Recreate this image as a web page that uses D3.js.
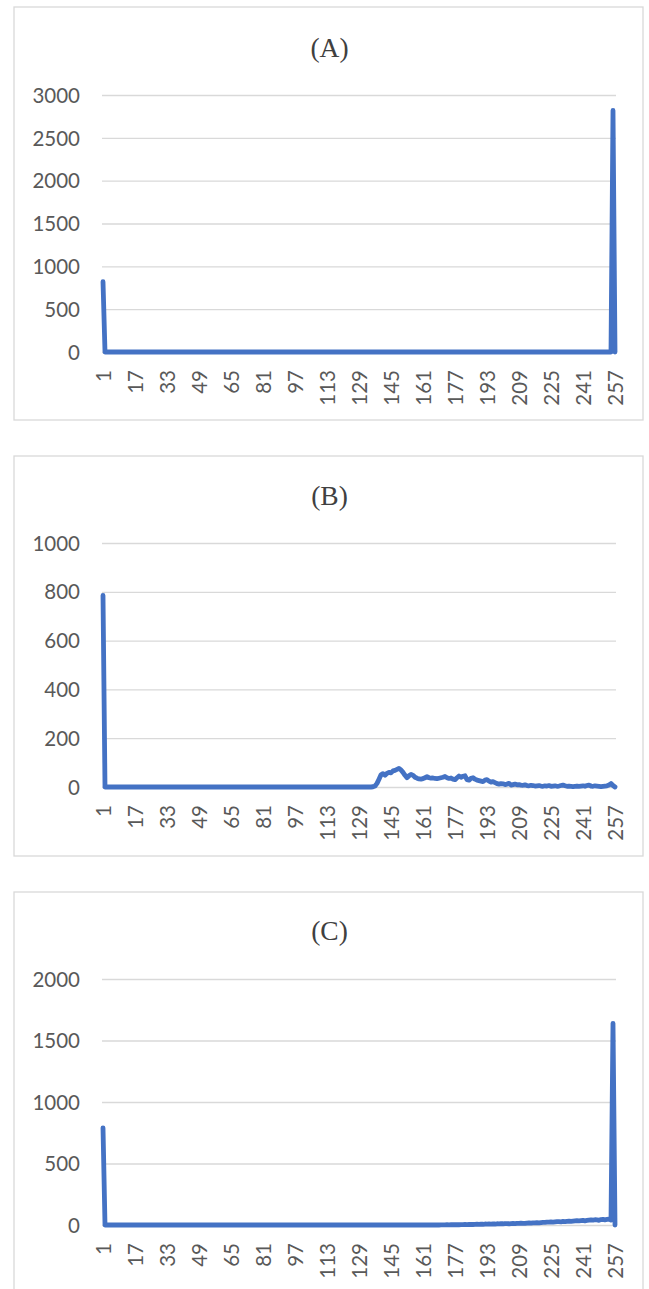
<!DOCTYPE html>
<html>
<head>
<meta charset="utf-8">
<script src="https://cdn.jsdelivr.net/npm/d3@7"></script>
<style>
  html, body { margin: 0; padding: 0; background: #ffffff; }
  svg { display: block; }
  .tick text { font-family: Lato, "Open Sans", sans-serif; font-size: 20.5px; fill: #595959; }
  .title { font-family: "Liberation Serif", "Times New Roman", serif; font-size: 27.5px; fill: #404040; }
</style>
</head>
<body>
<svg id="chart" width="649" height="1289"></svg>
<script>
// Histogram bins (1..257) for three images, one line series per panel
const categories = d3.range(1, 258);
const xTickLabels = [1, 17, 33, 49, 65, 81, 97, 113, 129, 145, 161, 177, 193, 209, 225, 241, 257];

const seriesA = [
  820,0,0,0,0,0,0,0,0,0,0,0,0,0,0,0,
  0,0,0,0,0,0,0,0,0,0,0,0,0,0,0,0,
  0,0,0,0,0,0,0,0,0,0,0,0,0,0,0,0,
  0,0,0,0,0,0,0,0,0,0,0,0,0,0,0,0,
  0,0,0,0,0,0,0,0,0,0,0,0,0,0,0,0,
  0,0,0,0,0,0,0,0,0,0,0,0,0,0,0,0,
  0,0,0,0,0,0,0,0,0,0,0,0,0,0,0,0,
  0,0,0,0,0,0,0,0,0,0,0,0,0,0,0,0,
  0,0,0,0,0,0,0,0,0,0,0,0,0,0,0,0,
  0,0,0,0,0,0,0,0,0,0,0,0,0,0,0,0,
  0,0,0,0,0,0,0,0,0,0,0,0,0,0,0,0,
  0,0,0,0,0,0,0,0,0,0,0,0,0,0,0,0,
  0,0,0,0,0,0,0,0,0,0,0,0,0,0,0,0,
  0,0,0,0,0,0,0,0,0,0,0,0,0,0,0,0,
  0,0,0,0,0,0,0,0,0,0,0,0,0,0,0,0,
  0,0,0,0,0,0,0,0,0,0,0,0,0,0,0,2820,
  0
];

const seriesB = [
  785,0,0,0,0,0,0,0,0,0,0,0,0,0,0,0,
  0,0,0,0,0,0,0,0,0,0,0,0,0,0,0,0,
  0,0,0,0,0,0,0,0,0,0,0,0,0,0,0,0,
  0,0,0,0,0,0,0,0,0,0,0,0,0,0,0,0,
  0,0,0,0,0,0,0,0,0,0,0,0,0,0,0,0,
  0,0,0,0,0,0,0,0,0,0,0,0,0,0,0,0,
  0,0,0,0,0,0,0,0,0,0,0,0,0,0,0,0,
  0,0,0,0,0,0,0,0,0,0,0,0,0,0,0,0,
  0,0,0,0,0,0,0,1,4,15,32,50,55,48,56,60,
  58,66,68,72,76,70,60,48,38,46,52,48,40,36,33,32,
  34,38,42,38,36,37,35,34,36,38,40,43,38,35,37,32,
  30,38,45,40,44,46,30,28,36,38,32,28,26,24,22,28,
  30,24,20,22,18,14,12,14,13,10,12,15,8,10,12,9,
  10,8,7,9,6,5,7,6,4,5,6,4,3,5,4,6,
  3,4,5,3,4,6,8,5,3,4,3,2,3,4,3,4,
  5,3,6,8,4,3,5,4,3,2,3,4,5,8,14,6,
  0
];

const seriesC = [
  790,0,0,0,0,0,0,0,0,0,0,0,0,0,0,0,
  0,0,0,0,0,0,0,0,0,0,0,0,0,0,0,0,
  0,0,0,0,0,0,0,0,0,0,0,0,0,0,0,0,
  0,0,0,0,0,0,0,0,0,0,0,0,0,0,0,0,
  0,0,0,0,0,0,0,0,0,0,0,0,0,0,0,0,
  0,0,0,0,0,0,0,0,0,0,0,0,0,0,0,0,
  0,0,0,0,0,0,0,0,0,0,0,0,0,0,0,0,
  0,0,0,0,0,0,0,0,0,0,0,0,0,0,0,0,
  0,0,0,0,0,0,0,0,0,0,0,0,0,0,0,0,
  0,0,0,0,0,0,0,0,0,0,0,0,0,0,0,0,
  0,0,0,0,0,0,0,0,0,1,1,1,2,1,2,2,
  2,3,2,3,3,4,3,4,5,4,5,6,5,7,6,8,
  7,8,7,9,8,10,9,11,10,12,11,10,12,13,12,14,
  13,15,14,13,16,17,15,18,17,19,18,20,22,21,24,23,
  25,24,26,28,27,26,29,28,30,32,29,31,33,35,34,36,
  38,34,37,40,42,39,43,41,38,44,46,42,45,48,40,1640,
  0
];

const titles = ["(A)", "(B)", "(C)"];
const yMax = [3000, 1000, 2000];
const yStep = [500, 200, 500];

// Panel geometry: frame box, title baseline, plot vertical extent
const panels = [
  { data: seriesA, boxTop: 7,   boxBottom: 420,  titleY: 57,  yTop: 95,  yZero: 352 },
  { data: seriesB, boxTop: 456, boxBottom: 856,  titleY: 505, yTop: 543, yZero: 787 },
  { data: seriesC, boxTop: 892, boxBottom: 1300, titleY: 940, yTop: 979, yZero: 1225 }
];

const svg = d3.select("#chart");
const boxLeft = 14, boxRight = 643;
const plotLeft = 102, plotRight = 616;

const x = d3.scalePoint().domain(categories).range([103, 615]);

panels.forEach((p, i) => {
  const g = svg.append("g");

  g.append("rect")
    .attr("x", boxLeft).attr("y", p.boxTop)
    .attr("width", boxRight - boxLeft).attr("height", p.boxBottom - p.boxTop)
    .attr("fill", "#ffffff").attr("stroke", "#d9d9d9").attr("stroke-width", 1.3);

  g.append("text").attr("class", "title")
    .attr("x", (boxLeft + boxRight) / 2 + 1).attr("y", p.titleY)
    .attr("text-anchor", "middle").text(titles[i]);

  const y = d3.scaleLinear().domain([0, yMax[i]]).range([p.yZero, p.yTop]);

  const yAxis = d3.axisLeft(y)
    .tickValues(d3.range(0, yMax[i] + 1, yStep[i]))
    .tickSize(-(plotRight - plotLeft))
    .tickPadding(22)
    .tickFormat(d3.format("d"));

  const yg = g.append("g").attr("transform", `translate(${plotLeft},0)`).call(yAxis);
  yg.select(".domain").remove();
  yg.selectAll(".tick line").attr("stroke", "#d9d9d9").attr("stroke-width", 1.3);
  yg.selectAll(".tick text").attr("dy", "0.35em");

  const xAxis = d3.axisBottom(x).tickValues(xTickLabels).tickSize(0);
  const xg = g.append("g").attr("transform", `translate(0,${p.yZero})`).call(xAxis);
  xg.select(".domain").remove();
  xg.selectAll(".tick text")
    .attr("transform", "rotate(-90)")
    .attr("x", -18).attr("y", 0).attr("dy", "0.36em")
    .style("text-anchor", "end");

  const line = d3.line()
    .x((d, k) => x(categories[k]))
    .y(d => y(d));

  g.append("path")
    .datum(p.data)
    .attr("d", line)
    .attr("fill", "none")
    .attr("stroke", "#4472c4")
    .attr("stroke-width", 4.8)
    .attr("stroke-linejoin", "round")
    .attr("stroke-linecap", "round");
});
</script>
</body>
</html>
